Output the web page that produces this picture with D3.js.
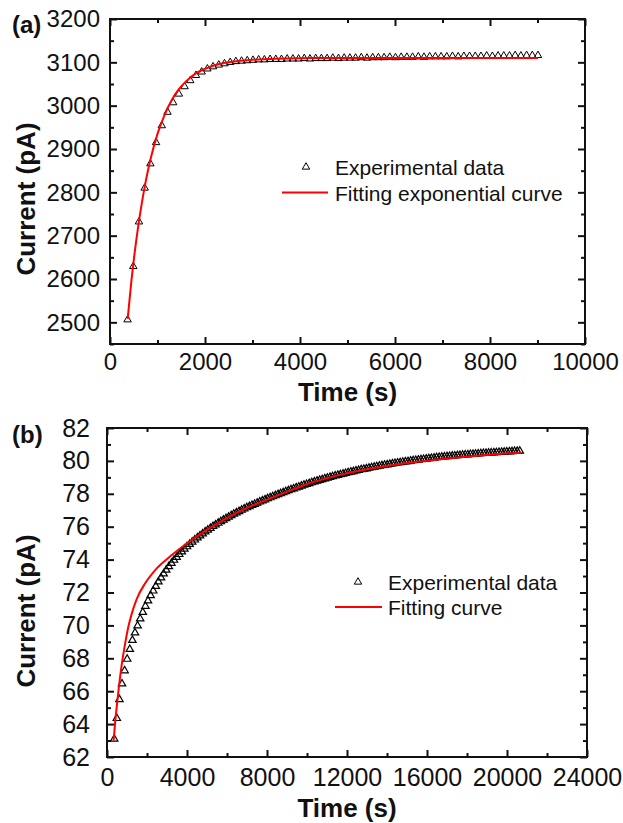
<!DOCTYPE html>
<html>
<head>
<meta charset="utf-8">
<script src="https://cdn.jsdelivr.net/npm/d3@7"></script>
<style>
  body { margin: 0; background: #fff; }
  text { font-family: "Liberation Sans", Arial, sans-serif; fill: #111; }
</style>
</head>
<body>
<script>
// ---- panel (a) data ----
const timeA = [370, 490, 610, 730, 850, 970, 1090, 1210, 1330, 1450, 1570, 1690, 1810, 1930, 2050, 2170, 2290, 2410, 2530, 2650,
  2770, 2890, 3010, 3130, 3250, 3370, 3490, 3610, 3730, 3850, 3970, 4090, 4210, 4330, 4450, 4570, 4690, 4810, 4930, 5050,
  5170, 5290, 5410, 5530, 5650, 5770, 5890, 6010, 6130, 6250, 6370, 6490, 6610, 6730, 6850, 6970, 7090, 7210, 7330, 7450,
  7570, 7690, 7810, 7930, 8050, 8170, 8290, 8410, 8530, 8650, 8770, 8890, 9010];
const currentA = [2506, 2629, 2732, 2810, 2866, 2915, 2954, 2985, 3007, 3027, 3044, 3058, 3070, 3078, 3085, 3090, 3094, 3097, 3100, 3102,
  3103, 3104, 3105, 3106, 3106, 3107, 3107, 3107, 3108, 3108, 3108, 3109, 3108, 3109, 3109, 3109, 3110, 3109, 3110, 3110,
  3110, 3111, 3110, 3111, 3111, 3111, 3112, 3111, 3112, 3112, 3112, 3113, 3112, 3113, 3113, 3113, 3113, 3114, 3113, 3114,
  3114, 3114, 3114, 3115, 3114, 3115, 3115, 3115, 3116, 3115, 3116, 3116, 3116];
const fitTimeA = [372, 450, 550, 650, 750, 850, 1000, 1150, 1300, 1450, 1600, 1800, 2000, 2300, 2600, 3000, 3500, 4000, 5000, 6000, 7000, 8000, 9010];
const fitCurrentA = [2508, 2595, 2687, 2762, 2824, 2875, 2935, 2979, 3013, 3038, 3056, 3074, 3085, 3096, 3102, 3106, 3108.5, 3109.5, 3110, 3110, 3110, 3110, 3110];
const xMajorA = [0, 2000, 4000, 6000, 8000, 10000];
const xMinorA = [1000, 3000, 5000, 7000, 9000];
const yMajorA = [2500, 2600, 2700, 2800, 2900, 3000, 3100, 3200];
const yMinorA = [2450, 2550, 2650, 2750, 2850, 2950, 3050, 3150];

// ---- panel (b) data ----
const timeB = [360, 490, 620, 750, 880, 1010, 1140, 1270, 1400, 1530, 1660, 1790, 1920, 2050, 2180, 2310, 2440, 2570, 2700, 2830,
  2960, 3090, 3220, 3350, 3480, 3610, 3740, 3870, 4000, 4130, 4260, 4390, 4520, 4650, 4780, 4910, 5040, 5170, 5300, 5430,
  5560, 5690, 5820, 5950, 6080, 6210, 6340, 6470, 6600, 6730, 6860, 6990, 7120, 7250, 7380, 7510, 7640, 7770, 7900, 8030,
  8160, 8290, 8420, 8550, 8680, 8810, 8940, 9070, 9200, 9330, 9460, 9590, 9720, 9850, 9980, 10110, 10240, 10370, 10500, 10630,
  10760, 10890, 11020, 11150, 11280, 11410, 11540, 11670, 11800, 11930, 12060, 12190, 12320, 12450, 12580, 12710, 12840, 12970, 13100, 13230,
  13360, 13490, 13620, 13750, 13880, 14010, 14140, 14270, 14400, 14530, 14660, 14790, 14920, 15050, 15180, 15310, 15440, 15570, 15700, 15830,
  15960, 16090, 16220, 16350, 16480, 16610, 16740, 16870, 17000, 17130, 17260, 17390, 17520, 17650, 17780, 17910, 18040, 18170, 18300, 18430,
  18560, 18690, 18820, 18950, 19080, 19210, 19340, 19470, 19600, 19730, 19860, 19990, 20120, 20250, 20380, 20510, 20640];
const currentB = [63.1, 64.35, 65.5, 66.45, 67.25, 67.95, 68.55, 69.1, 69.55, 69.98, 70.4, 70.8, 71.17, 71.5, 71.82, 72.1, 72.38, 72.65, 72.9, 73.14,
  73.37, 73.58, 73.78, 73.97, 74.15, 74.32, 74.48, 74.64, 74.79, 74.93, 75.07, 75.2, 75.33, 75.45, 75.57, 75.69, 75.8, 75.91, 76.02, 76.12,
  76.22, 76.32, 76.41, 76.5, 76.59, 76.68, 76.77, 76.85, 76.93, 77.01, 77.09, 77.16, 77.23, 77.3, 77.37, 77.44, 77.51, 77.58, 77.64, 77.71,
  77.77, 77.83, 77.9, 77.96, 78.02, 78.08, 78.14, 78.2, 78.26, 78.31, 78.37, 78.42, 78.48, 78.53, 78.58, 78.63, 78.68, 78.73, 78.78, 78.83,
  78.87, 78.92, 78.96, 79.01, 79.05, 79.09, 79.13, 79.17, 79.21, 79.25, 79.29, 79.33, 79.36, 79.4, 79.43, 79.47, 79.5, 79.53, 79.57, 79.6,
  79.63, 79.66, 79.69, 79.72, 79.75, 79.77, 79.8, 79.83, 79.85, 79.88, 79.9, 79.93, 79.95, 79.97, 80.0, 80.02, 80.04, 80.06, 80.08, 80.1,
  80.12, 80.14, 80.16, 80.18, 80.2, 80.22, 80.23, 80.25, 80.27, 80.28, 80.3, 80.31, 80.33, 80.34, 80.36, 80.37, 80.38, 80.4, 80.41, 80.42,
  80.43, 80.45, 80.46, 80.47, 80.48, 80.49, 80.5, 80.51, 80.52, 80.53, 80.54, 80.55, 80.56, 80.57, 80.58, 80.59, 80.6];
const fitTimeB = [330, 400, 535, 735, 900, 1065, 1235, 1485, 1900, 2400, 3065, 3900, 4900, 5735, 6565, 7400, 8235, 9065, 9900, 11650, 14150, 16650, 19150, 20700];
const fitCurrentB = [63.0, 64.0, 65.6, 67.6, 68.85, 69.9, 70.7, 71.6, 72.55, 73.35, 74.1, 74.9, 75.75, 76.35, 76.9, 77.35, 77.75, 78.15, 78.55, 79.15, 79.72, 80.1, 80.38, 80.5];
const xMajorB = [0, 4000, 8000, 12000, 16000, 20000, 24000];
const xMinorB = [2000, 6000, 10000, 14000, 18000, 22000];
const yMajorB = [62, 64, 66, 68, 70, 72, 74, 76, 78, 80, 82];
const yMinorB = [63, 65, 67, 69, 71, 73, 75, 77, 79, 81];

const svg = d3.select("body").append("svg")
  .attr("width", 623)
  .attr("height", 823);

svg.append("rect").attr("width", 623).attr("height", 823).attr("fill", "#fff");

function drawPanel(p) {
  const x = d3.scaleLinear().domain(p.xDomain).range([p.left, p.right]);
  const y = d3.scaleLinear().domain(p.yDomain).range([p.bottom, p.top]);
  const g = svg.append("g");

  // ticks on all four sides, pointing inward
  const addAxis = (axis, transform, values, size, labels) => {
    const a = g.append("g")
      .attr("transform", transform)
      .call(axis.tickValues(values).tickSize(-size).tickFormat(labels ? d3.format("d") : ""));
    a.select(".domain").remove();
    a.selectAll(".tick line").attr("stroke", "#111").attr("stroke-width", 2);
    return a;
  };

  const bx = addAxis(d3.axisBottom(x).tickPadding(p.xPad), `translate(0,${p.bottom})`, p.xMajor, 7, true);
  bx.selectAll("text").attr("font-size", p.tickFont).attr("fill", "#111");
  addAxis(d3.axisBottom(x), `translate(0,${p.bottom})`, p.xMinor, 4, false);
  addAxis(d3.axisTop(x), `translate(0,${p.top})`, p.xMajor, 7, false);
  addAxis(d3.axisTop(x), `translate(0,${p.top})`, p.xMinor, 4, false);

  const ly = addAxis(d3.axisLeft(y).tickPadding(p.yPad), `translate(${p.left},0)`, p.yMajor, 7, true);
  ly.selectAll("text").attr("font-size", p.tickFont).attr("fill", "#111");
  addAxis(d3.axisLeft(y), `translate(${p.left},0)`, p.yMinor, 4, false);
  addAxis(d3.axisRight(y), `translate(${p.right},0)`, p.yMajor, 7, false);
  addAxis(d3.axisRight(y), `translate(${p.right},0)`, p.yMinor, 4, false);

  g.append("rect")
    .attr("x", p.left).attr("y", p.top)
    .attr("width", p.right - p.left).attr("height", p.bottom - p.top)
    .attr("fill", "none").attr("stroke", "#111").attr("stroke-width", 2);

  // experimental points
  const pts = p.time.map((t, i) => ({ t, v: p.current[i] }));
  g.selectAll(".pt").data(pts).enter().append("path")
    .attr("class", "pt")
    .attr("d", d3.symbol().type(d3.symbolTriangle).size(24))
    .attr("transform", d => `translate(${x(d.t)},${y(d.v)})`)
    .attr("fill", "none").attr("stroke", "#000").attr("stroke-width", p.markStroke);

  // fitted curve
  const fit = p.fitTime.map((t, i) => ({ t, v: p.fitCurrent[i] }));
  g.append("path")
    .datum(fit)
    .attr("d", d3.line().x(d => x(d.t)).y(d => y(d.v)).curve(d3.curveMonotoneX))
    .attr("fill", "none").attr("stroke", "#ff0000").attr("stroke-width", 2);

  // axis titles
  g.append("text")
    .attr("x", (p.left + p.right) / 2).attr("y", p.xTitleY)
    .attr("text-anchor", "middle").attr("font-size", 26).attr("font-weight", "bold")
    .text("Time (s)");
  g.append("text")
    .attr("transform", `translate(35,${p.yTitleC}) rotate(-90)`)
    .attr("text-anchor", "middle").attr("font-size", 26).attr("font-weight", "bold")
    .text("Current (pA)");

  // panel tag
  g.append("text")
    .attr("x", 12).attr("y", p.tagY)
    .attr("font-size", 24).attr("font-weight", "bold")
    .text(p.tag);

  // legend
  g.append("path")
    .attr("d", d3.symbol().type(d3.symbolTriangle).size(24))
    .attr("transform", `translate(${p.legX},${p.legY1})`)
    .attr("fill", "none").attr("stroke", "#000").attr("stroke-width", 1);
  g.append("text")
    .attr("x", p.legTextX).attr("y", p.legY1 + 8)
    .attr("font-size", 21)
    .text("Experimental data");
  g.append("line")
    .attr("x1", p.legLine[0]).attr("x2", p.legLine[1])
    .attr("y1", p.legY2).attr("y2", p.legY2)
    .attr("stroke", "#ff0000").attr("stroke-width", 2);
  g.append("text")
    .attr("x", p.legTextX).attr("y", p.legY2 + 8)
    .attr("font-size", 21)
    .text(p.fitLabel);
}

drawPanel({
  tag: "(a)", tagY: 33,
  time: timeA, current: currentA, fitTime: fitTimeA, fitCurrent: fitCurrentA,
  xDomain: [0, 10000], yDomain: [2450, 3200],
  left: 110, right: 585, top: 19, bottom: 344,
  xMajor: xMajorA, xMinor: xMinorA, yMajor: yMajorA, yMinor: yMinorA,
  tickFont: 24, xPad: 9, yPad: 10, markStroke: 1,
  xTitleY: 401, yTitleC: 199,
  legX: 306, legTextX: 335, legY1: 167, legY2: 192.5, legLine: [282, 328],
  fitLabel: "Fitting exponential curve"
});

drawPanel({
  tag: "(b)", tagY: 443,
  time: timeB, current: currentB, fitTime: fitTimeB, fitCurrent: fitCurrentB,
  xDomain: [0, 24000], yDomain: [62, 82],
  left: 107, right: 587, top: 428, bottom: 757,
  xMajor: xMajorB, xMinor: xMinorB, yMajor: yMajorB, yMinor: yMinorB,
  tickFont: 25, xPad: 11, yPad: 17, markStroke: 1.2,
  xTitleY: 817, yTitleC: 611,
  legX: 358, legTextX: 388, legY1: 582, legY2: 607, legLine: [335, 382],
  fitLabel: "Fitting curve"
});
</script>
</body>
</html>
